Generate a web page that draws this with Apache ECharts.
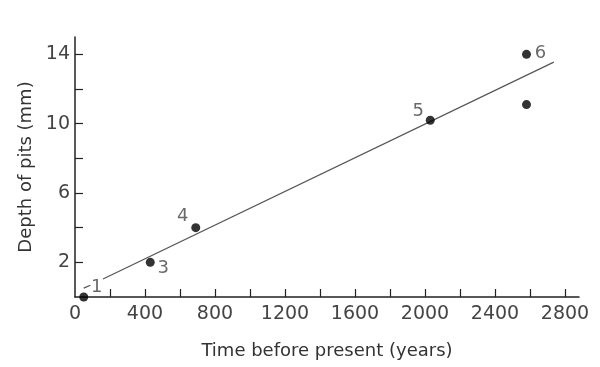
<!DOCTYPE html>
<html><head><meta charset="utf-8">
<script src="https://cdn.jsdelivr.net/npm/echarts@6/dist/echarts.min.js"></script>
<style>html,body{margin:0;padding:0;background:#fff}#c{width:600px;height:367px}</style>
</head><body><div id="c"></div>
<script>
// Data
const timeYears = [50, 430, 690, 2030, 2580, 2580];
const depthMm = [0, 2, 4, 10.2, 14, 11.1];
const pointLabels = ['1', '3', '4', '5', '6', ''];
const fitTime = [160, 2736];
const fitDepth = [1.04, 13.55];
const fitExtTime = [50, 88];
const fitExtDepth = [0.51, 0.68];
const xTickValues = [200, 400, 600, 800, 1000, 1200, 1400, 1600, 1800, 2000, 2200, 2400, 2600, 2800];
const xLabelValues = [0, 400, 800, 1200, 1600, 2000, 2400, 2800];
const yTickValues = [2, 4, 6, 8, 10, 12, 14];
const yLabelValues = [2, 6, 10, 14];

const labelOffsets = [[13, -10], [13, 6], [-13, -11], [-12, -9], [14, -1], [0, 0]];
const font = 'DejaVu Sans';
const chart = echarts.init(document.getElementById('c'), null, {renderer: 'canvas'});
const pts = timeYears.map((t, i) => ({
  value: [t, depthMm[i]],
  label: {show: pointLabels[i] !== '', formatter: pointLabels[i], position: 'inside', offset: labelOffsets[i],
    align: 'center', verticalAlign: 'middle', color: '#444', fontSize: 18, fontFamily: font}
}));
chart.setOption({
  animation: false,
  grid: {left: 75, right: 21, top: 37, bottom: 70, containLabel: false},
  xAxis: {
    type: 'value', min: 0, max: 2880,
    name: 'Time before present (years)', nameLocation: 'middle', nameGap: 45,
    nameTextStyle: {fontSize: 18, color: '#333', fontFamily: font},
    axisLine: {show: true, lineStyle: {color: '#222', width: 1.5}},
    axisTick: {show: true, inside: true, length: 8, customValues: xTickValues, lineStyle: {color: '#222', width: 1.2}},
    axisLabel: {customValues: xLabelValues, margin: 8, fontSize: 19, color: '#444', fontFamily: font,
      formatter: v => String(v)},
    splitLine: {show: false}
  },
  yAxis: {
    type: 'value', min: 0, max: 15,
    name: 'Depth of pits (mm)', nameLocation: 'middle', nameGap: 40, nameRotate: 90,
    nameTextStyle: {fontSize: 18, color: '#333', fontFamily: font},
    axisLine: {show: true, lineStyle: {color: '#222', width: 1.5}},
    axisTick: {show: true, inside: true, length: 8, customValues: yTickValues, lineStyle: {color: '#222', width: 1.2}},
    axisLabel: {customValues: yLabelValues, margin: 5, fontSize: 19, color: '#444', fontFamily: font,
      formatter: v => String(v)},
    splitLine: {show: false}
  },
  series: [
    {type: 'line', data: fitTime.map((t, i) => [t, fitDepth[i]]), showSymbol: false, symbol: 'none',
      lineStyle: {color: '#555', width: 1.2}, z: 1},
    {type: 'line', data: fitExtTime.map((t, i) => [t, fitExtDepth[i]]), showSymbol: false, symbol: 'none',
      lineStyle: {color: '#555', width: 1.2}, z: 1},
    {type: 'scatter', data: pts, symbol: 'circle', symbolSize: 9, itemStyle: {color: '#000'}, z: 3}
  ]
});
</script></body></html>
